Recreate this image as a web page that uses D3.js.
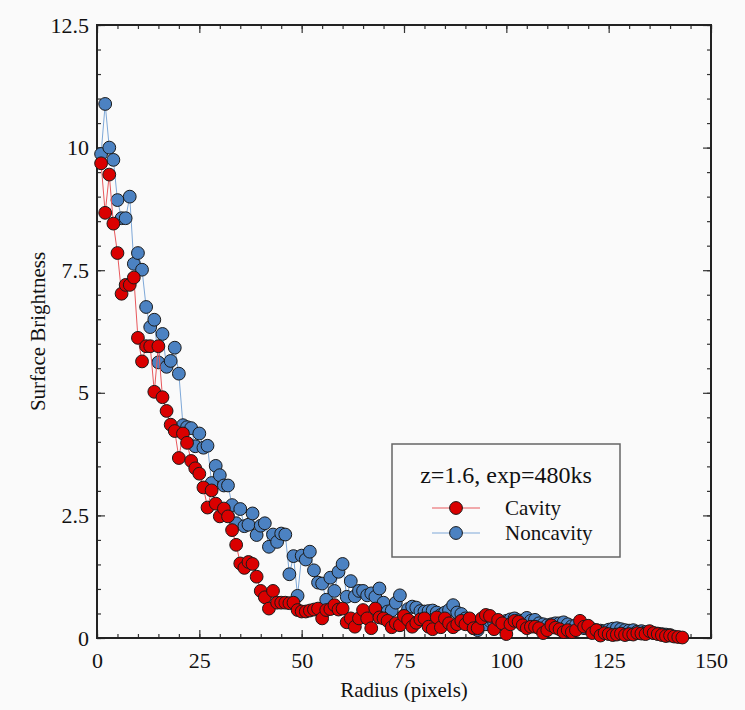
<!DOCTYPE html>
<html>
<head>
<meta charset="utf-8">
<script src="https://cdn.jsdelivr.net/npm/d3@7"></script>
<style>
  html, body { margin: 0; padding: 0; background: #fafafa; }
  svg { display: block; font-family: "Liberation Serif", "DejaVu Serif", serif; }
</style>
</head>
<body>
<script>
// radius in pixels, one point per pixel
const cavity = [9.68,8.67,9.45,8.45,7.85,7.02,7.2,7.2,7.35,6.12,
  5.64,5.95,5.95,5.02,5.95,4.91,4.63,4.35,4.22,3.67,
  4.17,3.98,3.61,3.46,3.35,3.07,2.66,3.01,2.74,2.48,
  2.64,2.48,2.20,1.90,1.52,1.43,1.55,1.51,1.25,0.96,
  0.83,0.60,0.96,0.72,0.72,0.72,0.71,0.72,0.57,0.54,
  0.54,0.56,0.58,0.60,0.40,0.57,0.59,0.67,0.58,0.60,
  0.32,0.40,0.23,0.40,0.57,0.40,0.20,0.60,0.42,0.40,
  0.35,0.22,0.30,0.26,0.45,0.37,0.23,0.31,0.38,0.40,
  0.23,0.18,0.42,0.22,0.40,0.30,0.22,0.28,0.35,0.28,
  0.40,0.20,0.20,0.40,0.47,0.45,0.18,0.37,0.30,0.08,
  0.28,0.35,0.33,0.26,0.20,0.23,0.23,0.20,0.10,0.16,
  0.26,0.21,0.18,0.12,0.16,0.12,0.16,0.35,0.23,0.25,
  0.10,0.16,0.05,0.10,0.08,0.06,0.07,0.09,0.06,0.08,
  0.07,0.10,0.09,0.08,0.14,0.10,0.08,0.06,0.04,0.05,
  0.03,0.02,0.01];

const noncavity = [9.87,10.89,10.0,9.75,8.93,8.56,8.56,9.0,7.63,7.85,
  7.51,6.75,6.34,6.49,5.62,6.2,5.53,5.65,5.92,5.39,
  4.34,4.30,4.28,3.91,4.17,3.88,3.92,3.16,3.51,3.32,
  3.11,3.11,2.71,2.34,2.63,2.28,2.31,2.54,2.10,2.29,
  2.34,1.86,2.11,1.96,2.13,2.11,1.30,1.67,0.86,1.68,
  1.60,1.76,1.38,1.13,1.11,0.78,1.23,0.96,1.35,1.51,
  0.84,1.16,0.85,0.96,0.96,0.87,0.91,0.84,1.01,0.72,
  0.54,0.56,0.72,0.87,0.46,0.59,0.64,0.62,0.55,0.54,
  0.55,0.56,0.52,0.47,0.52,0.57,0.67,0.52,0.49,0.40,
  0.37,0.20,0.16,0.30,0.28,0.35,0.32,0.30,0.28,0.35,
  0.38,0.40,0.36,0.34,0.41,0.35,0.37,0.30,0.28,0.26,
  0.28,0.30,0.30,0.32,0.28,0.24,0.26,0.22,0.20,0.22,
  0.18,0.16,0.15,0.14,0.17,0.19,0.20,0.18,0.16,0.15,
  0.16,0.13,0.14,0.12,0.11,0.10,0.09,0.08,0.07,0.06];

const seriesNames = ["Cavity", "Noncavity"];
const xMajor = [0, 25, 50, 75, 100, 125, 150];
const yMajor = [0, 2.5, 5, 7.5, 10, 12.5];
const xMinor = d3.range(0, 150.01, 5);
const yMinor = d3.range(0, 12.51, 0.5);

const W = 745, H = 710;
const margin = {left: 97, right: 34, top: 25, bottom: 72};

const svg = d3.select("body").append("svg")
  .attr("width", W)
  .attr("height", H);

const x = d3.scaleLinear().domain([0, 150]).range([margin.left, W - margin.right]);
const y = d3.scaleLinear().domain([0, 12.5]).range([H - margin.bottom, margin.top]);

const fmt = d => d3.format("~g")(d);

// minor ticks, all four sides
function minorAxis(axis, vals) {
  return axis.tickValues(vals).tickSizeInner(-4).tickSizeOuter(0).tickFormat("");
}
svg.append("g").attr("transform", `translate(0,${y(0)})`).call(minorAxis(d3.axisBottom(x), xMinor));
svg.append("g").attr("transform", `translate(0,${y(12.5)})`).call(minorAxis(d3.axisTop(x), xMinor));
svg.append("g").attr("transform", `translate(${x(0)},0)`).call(minorAxis(d3.axisLeft(y), yMinor));
svg.append("g").attr("transform", `translate(${x(150)},0)`).call(minorAxis(d3.axisRight(y), yMinor));

// major ticks
svg.append("g").attr("class", "xaxis")
  .attr("transform", `translate(0,${y(0)})`)
  .call(d3.axisBottom(x).tickValues(xMajor).tickSizeInner(-8).tickSizeOuter(0).tickPadding(14).tickFormat(fmt));
svg.append("g").attr("transform", `translate(0,${y(12.5)})`)
  .call(d3.axisTop(x).tickValues(xMajor).tickSizeInner(-8).tickSizeOuter(0).tickFormat(""));
svg.append("g").attr("class", "yaxis")
  .attr("transform", `translate(${x(0)},0)`)
  .call(d3.axisLeft(y).tickValues(yMajor).tickSizeInner(-8).tickSizeOuter(0).tickPadding(8).tickFormat(fmt));
svg.append("g").attr("transform", `translate(${x(150)},0)`)
  .call(d3.axisRight(y).tickValues(yMajor).tickSizeInner(-8).tickSizeOuter(0).tickFormat(""));

svg.selectAll(".domain").remove();
svg.selectAll(".tick line").attr("stroke", "#333").attr("stroke-width", 1.2);
svg.selectAll(".tick text")
  .attr("font-family", "Liberation Serif, serif")
  .attr("font-size", 22)
  .attr("fill", "#111");

// frame
svg.append("rect")
  .attr("x", x(0)).attr("y", y(12.5))
  .attr("width", x(150) - x(0)).attr("height", y(0) - y(12.5))
  .attr("fill", "none").attr("stroke", "#222").attr("stroke-width", 2);

// axis titles
svg.append("text")
  .attr("x", (x(0) + x(150)) / 2).attr("y", 697)
  .attr("text-anchor", "middle").attr("font-size", 21).attr("fill", "#111")
  .text("Radius (pixels)");
svg.append("text")
  .attr("transform", `translate(45,${(y(0) + y(12.5)) / 2}) rotate(-90)`)
  .attr("text-anchor", "middle").attr("font-size", 21).attr("fill", "#111")
  .text("Surface Brightness");

const colors = {
  Cavity: {fill: "#da0000", line: "#e8585c"},
  Noncavity: {fill: "#4c82c2", line: "#7ea8d8"}
};

const line = d3.line().x(d => x(d[0])).y(d => y(d[1]));
const plot = svg.append("g");

function drawSeries(name, vals) {
  const pts = vals.map((v, i) => [i + 1, v]);
  const g = plot.append("g").attr("class", "series");
  g.append("path")
    .datum(pts)
    .attr("fill", "none")
    .attr("stroke", colors[name].line)
    .attr("stroke-width", 1)
    .attr("d", line);
  g.selectAll("circle")
    .data(pts)
    .join("circle")
    .attr("cx", d => x(d[0]))
    .attr("cy", d => y(d[1]))
    .attr("r", 6.4)
    .attr("fill", colors[name].fill)
    .attr("stroke", "#1a1a1a")
    .attr("stroke-width", 1);
}
// blue first, red on top
drawSeries("Noncavity", noncavity);
drawSeries("Cavity", cavity);

// legend
const lg = svg.append("g").attr("transform", "translate(392,444)");
lg.append("rect")
  .attr("width", 228).attr("height", 113)
  .attr("fill", "#fafafa").attr("stroke", "#666").attr("stroke-width", 1.5);
lg.append("text")
  .attr("x", 114).attr("y", 39)
  .attr("text-anchor", "middle").attr("font-size", 24).attr("fill", "#111")
  .text("z=1.6, exp=480ks");
seriesNames.forEach((name, i) => {
  const row = lg.append("g").attr("transform", `translate(0,${64 + i * 25})`);
  row.append("line")
    .attr("x1", 40).attr("x2", 88)
    .attr("stroke", colors[name].line).attr("stroke-width", 1);
  row.append("circle")
    .attr("cx", 64).attr("r", 6.4)
    .attr("fill", colors[name].fill).attr("stroke", "#1a1a1a");
  row.append("text")
    .attr("x", 113).attr("y", 7)
    .attr("font-size", 21).attr("fill", "#111")
    .text(name);
});
</script>
</body>
</html>
